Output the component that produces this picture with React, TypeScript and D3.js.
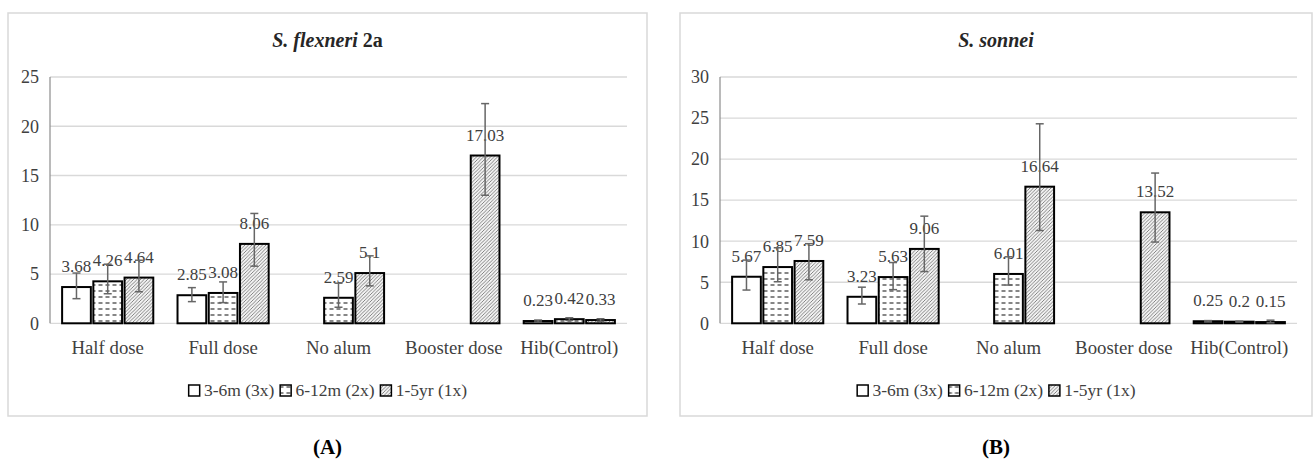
import React, { useEffect, useRef } from "react";
import * as d3 from "d3";

const categories = ["Half dose", "Full dose", "No alum", "Booster dose", "Hib(Control)"];
const seriesNames = ["3-6m (3x)", "6-12m (2x)", "1-5yr (1x)"];

// Panel A: S. flexneri 2a
const flexTicks = [0, 5, 10, 15, 20, 25];
const flex36 = [3.68, 2.85, null, null, 0.23];
const flex612 = [4.26, 3.08, 2.59, null, 0.42];
const flex15 = [4.64, 8.06, 5.1, 17.03, 0.33];
const flexUp36 = [5.1, 3.62, null, null, 0.33];
const flexLo36 = [2.5, 2.2, null, null, 0.13];
const flexUp612 = [6.0, 4.2, 4.07, null, 0.56];
const flexLo612 = [3.0, 2.1, 1.63, null, 0.29];
const flexUp15 = [6.4, 11.15, 6.85, 22.3, 0.46];
const flexLo15 = [3.2, 5.8, 3.8, 13.0, 0.21];

// Panel B: S. sonnei
const sonTicks = [0, 5, 10, 15, 20, 25, 30];
const son36 = [5.67, 3.23, null, null, 0.25];
const son612 = [6.85, 5.63, 6.01, null, 0.2];
const son15 = [7.59, 9.06, 16.64, 13.52, 0.15];
const sonUp36 = [7.7, 4.4, null, null, 0.33];
const sonLo36 = [4.05, 2.35, null, null, 0.17];
const sonUp612 = [9.2, 7.4, 8.1, null, 0.26];
const sonLo612 = [5.06, 4.1, 4.66, null, 0.14];
const sonUp15 = [9.7, 13.05, 24.3, 18.3, 0.38];
const sonLo15 = [5.3, 6.3, 11.3, 9.9, 0.06];

type Panel = {
  titleParts: { text: string; italic: boolean; bold: boolean }[];
  caption: string;
  frame: [number, number, number, number];
  left: number;
  right: number;
  ticks: number[];
  means: (number | null)[][];
  ups: (number | null)[][];
  los: (number | null)[][];
};

const panels: Panel[] = [
  {
    titleParts: [
      { text: "S. flexneri ", italic: true, bold: true },
      { text: "2a", italic: false, bold: true },
    ],
    caption: "A",
    frame: [8, 13, 647, 416],
    left: 50,
    right: 627,
    ticks: flexTicks,
    means: [flex36, flex612, flex15],
    ups: [flexUp36, flexUp612, flexUp15],
    los: [flexLo36, flexLo612, flexLo15],
  },
  {
    titleParts: [{ text: "S. sonnei", italic: true, bold: true }],
    caption: "B",
    frame: [680, 13, 1312, 416],
    left: 720,
    right: 1297,
    ticks: sonTicks,
    means: [son36, son612, son15],
    ups: [sonUp36, sonUp612, sonUp15],
    los: [sonLo36, sonLo612, sonLo15],
  },
];

const FONT = '"Liberation Serif", "DejaVu Serif", "Times New Roman", serif';
const TEXT = "#404040";

export default function App() {
  const ref = useRef<SVGSVGElement>(null);

  useEffect(() => {
    const svg = d3.select(ref.current);
    svg.selectAll("*").remove();

    const defs = svg.append("defs");
    const dash = defs
      .append("pattern")
      .attr("id", "pDash")
      .attr("patternUnits", "userSpaceOnUse")
      .attr("width", 7)
      .attr("height", 6);
    dash.append("rect").attr("width", 7).attr("height", 6).attr("fill", "#fff");
    dash
      .append("line")
      .attr("x1", 0.5)
      .attr("x2", 4.5)
      .attr("y1", 3)
      .attr("y2", 3)
      .attr("stroke", "#222")
      .attr("stroke-width", 1.1);

    const hatch = defs
      .append("pattern")
      .attr("id", "pHatch")
      .attr("patternUnits", "userSpaceOnUse")
      .attr("width", 3.5)
      .attr("height", 3.5);
    hatch.append("rect").attr("width", 3.5).attr("height", 3.5).attr("fill", "#f2f2f2");
    hatch
      .append("path")
      .attr("d", "M-1,1 L1,-1 M0,3.5 L3.5,0 M2.5,4.5 L4.5,2.5")
      .attr("stroke", "#555")
      .attr("stroke-width", 0.7);

    const fills = ["#ffffff", "url(#pDash)", "url(#pHatch)"];

    const yBottom = 323.3;
    const yTop = 77;

    panels.forEach((p) => {
      const g = svg.append("g").style("font-family", FONT);
      const [fx0, fy0, fx1, fy1] = p.frame;
      const cx = (fx0 + fx1) / 2;

      g.append("rect")
        .attr("x", fx0)
        .attr("y", fy0)
        .attr("width", fx1 - fx0)
        .attr("height", fy1 - fy0)
        .attr("fill", "#fff")
        .attr("stroke", "#d9d9d9")
        .attr("stroke-width", 1.5);

      const title = g
        .append("text")
        .attr("x", cx)
        .attr("y", 47)
        .attr("text-anchor", "middle")
        .style("font-family", FONT)
        .attr("font-size", 20)
        .attr("fill", "#262626");
      p.titleParts.forEach((t) =>
        title
          .append("tspan")
          .attr("font-style", t.italic ? "italic" : "normal")
          .attr("font-weight", t.bold ? "bold" : "normal")
          .text(t.text)
      );

      const yMax = p.ticks[p.ticks.length - 1];
      const y = d3.scaleLinear().domain([0, yMax]).range([yBottom, yTop]);
      const x0 = d3.scaleBand<string>().domain(categories).range([p.left, p.right]).padding(0);
      const bw = x0.bandwidth();
      const x1 = d3
        .scaleBand<string>()
        .domain(seriesNames)
        .range([bw * 0.105, bw * 0.895])
        .paddingInner(0.08);

      g.selectAll(".grid")
        .data(p.ticks)
        .enter()
        .append("line")
        .attr("x1", p.left)
        .attr("x2", p.right)
        .attr("y1", (d) => y(d))
        .attr("y2", (d) => y(d))
        .attr("stroke", "#d9d9d9")
        .attr("stroke-width", 1.3);

      g.append("line")
        .attr("x1", p.left)
        .attr("x2", p.left)
        .attr("y1", y(yMax))
        .attr("y2", y(0))
        .attr("stroke", "#8c8c8c")
        .attr("stroke-width", 1.2);

      g.selectAll(".tick")
        .data(p.ticks)
        .enter()
        .append("text")
        .attr("x", p.left - 11)
        .attr("y", (d) => y(d))
        .attr("dy", "0.35em")
        .attr("text-anchor", "end")
        .style("font-family", FONT)
        .attr("font-size", 18)
        .attr("fill", TEXT)
        .text((d) => String(d));

      const items: { cat: string; s: number; v: number; up: number; lo: number }[] = [];
      p.means.forEach((arr, s) =>
        arr.forEach((v, i) => {
          if (v !== null)
            items.push({
              cat: categories[i],
              s,
              v,
              up: p.ups[s][i] as number,
              lo: p.los[s][i] as number,
            });
        })
      );

      const bx = (d: { cat: string; s: number }) => (x0(d.cat) as number) + (x1(seriesNames[d.s]) as number);
      const bwid = x1.bandwidth();

      g.selectAll(".bar")
        .data(items)
        .enter()
        .append("rect")
        .attr("x", (d) => bx(d))
        .attr("y", (d) => y(d.v))
        .attr("width", bwid)
        .attr("height", (d) => y(0) - y(d.v))
        .attr("fill", (d) => fills[d.s])
        .attr("stroke", "#000")
        .attr("stroke-width", 2);

      g.selectAll(".lbl")
        .data(items)
        .enter()
        .append("text")
        .attr("x", (d) => bx(d) + bwid / 2)
        .attr("y", (d) => y(d.v) - 15)
        .attr("text-anchor", "middle")
        .style("font-family", FONT)
        .attr("font-size", 17)
        .attr("fill", TEXT)
        .text((d) => String(d.v));

      const eb = g
        .selectAll(".err")
        .data(items)
        .enter()
        .append("g")
        .attr("stroke", "#666")
        .attr("stroke-width", 1.5);
      eb.append("line")
        .attr("x1", (d) => bx(d) + bwid / 2)
        .attr("x2", (d) => bx(d) + bwid / 2)
        .attr("y1", (d) => y(d.up))
        .attr("y2", (d) => y(d.lo));
      eb.append("line")
        .attr("x1", (d) => bx(d) + bwid / 2 - 4)
        .attr("x2", (d) => bx(d) + bwid / 2 + 4)
        .attr("y1", (d) => y(d.up))
        .attr("y2", (d) => y(d.up));
      eb.append("line")
        .attr("x1", (d) => bx(d) + bwid / 2 - 4)
        .attr("x2", (d) => bx(d) + bwid / 2 + 4)
        .attr("y1", (d) => y(d.lo))
        .attr("y2", (d) => y(d.lo));

      g.selectAll(".cat")
        .data(categories)
        .enter()
        .append("text")
        .attr("x", (d) => (x0(d) as number) + bw / 2)
        .attr("y", 354)
        .attr("text-anchor", "middle")
        .style("font-family", FONT)
        .attr("font-size", 18.8)
        .attr("fill", TEXT)
        .text((d) => d);

      const lg = g.append("g");
      let lx = 0;
      seriesNames.forEach((name, s) => {
        lg.append("rect")
          .attr("x", lx + 0.75)
          .attr("y", 385)
          .attr("width", 11)
          .attr("height", 11)
          .attr("fill", fills[s])
          .attr("stroke", "#000")
          .attr("stroke-width", 1.5);
        const t = lg
          .append("text")
          .attr("x", lx + 16)
          .attr("y", 396)
          .style("font-family", FONT)
          .attr("font-size", 17.5)
          .attr("fill", TEXT)
          .text(name);
        const w = (t.node() as SVGTextElement).getComputedTextLength();
        lx += 16 + w + 5;
      });
      const total = lx - 5;
      lg.attr("transform", `translate(${cx - total / 2},0)`);

      svg
        .append("text")
        .attr("x", cx)
        .attr("y", 454)
        .attr("text-anchor", "middle")
        .style("font-family", FONT)
        .attr("font-size", 21)
        .attr("font-weight", "bold")
        .attr("fill", "#000")
        .text(`(${p.caption})`);
    });
  }, []);

  return (
    <svg
      ref={ref}
      width={1315}
      height={462}
      style={{ position: "absolute", left: 0, top: 0, background: "#fff", display: "block" }}
    />
  );
}
